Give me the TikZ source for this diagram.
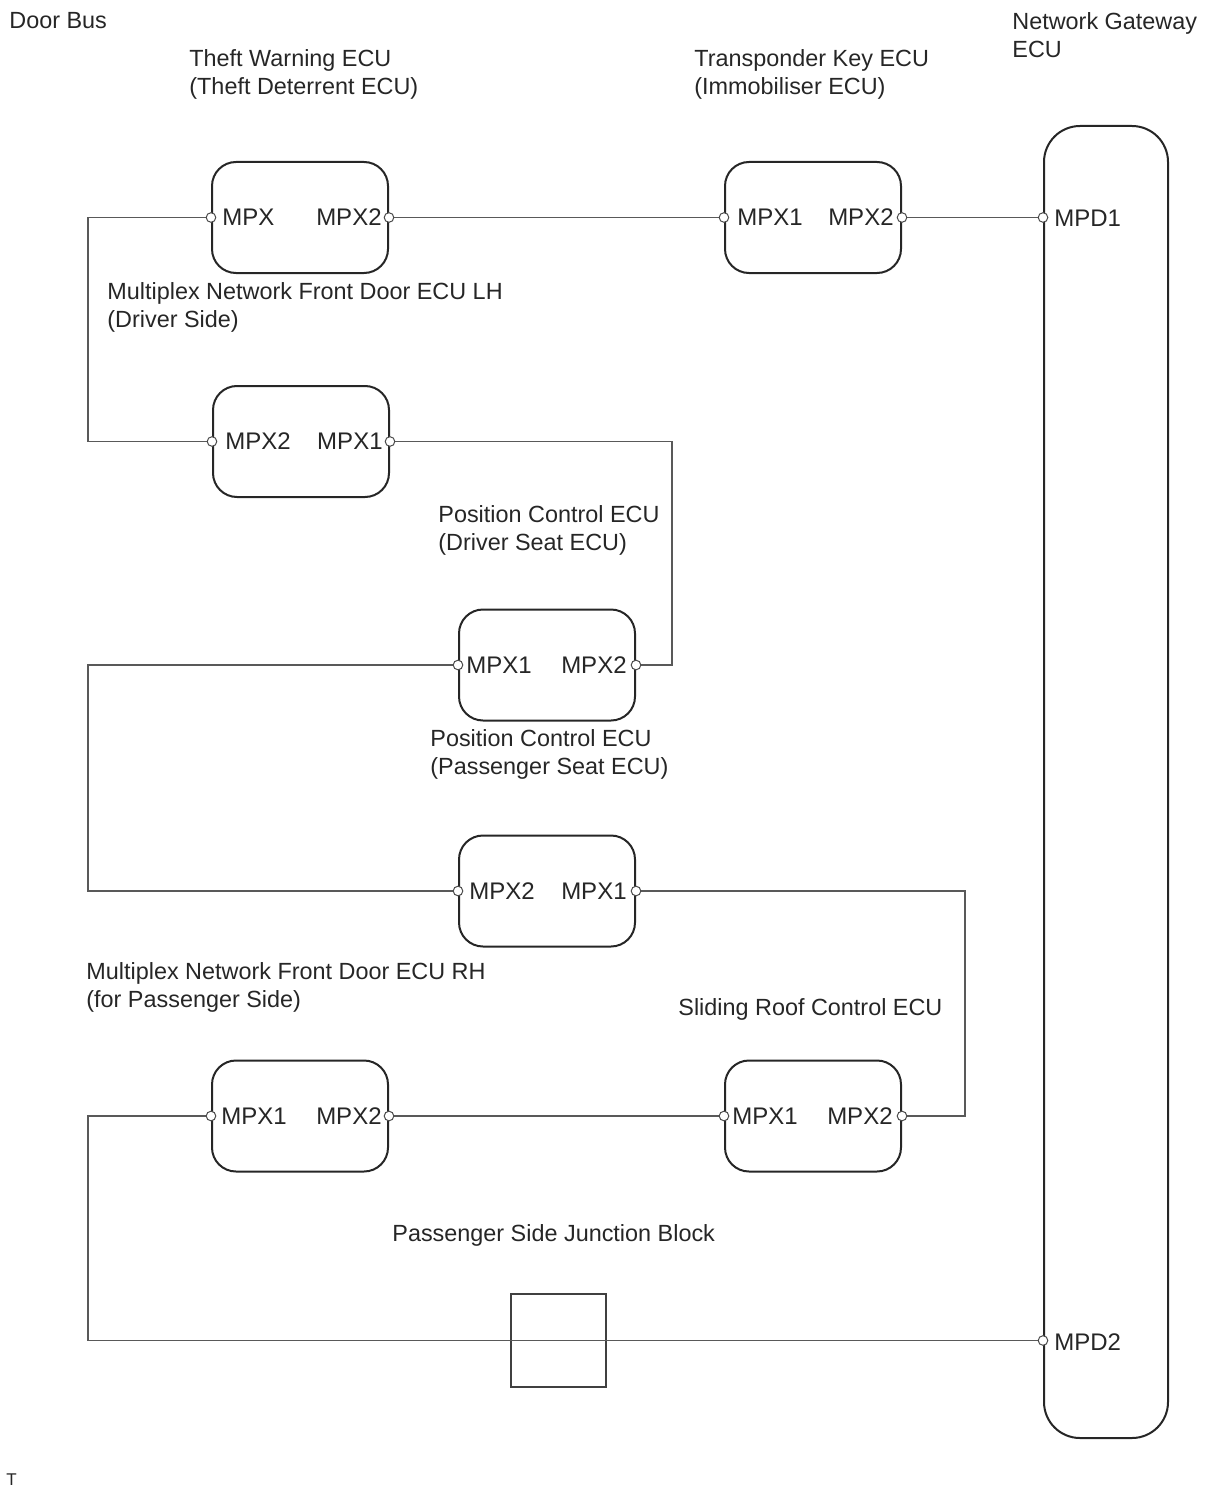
\documentclass[tikz,border=0pt]{standalone}
\usepackage{fontspec}
\setmainfont{Liberation Sans}
\begin{document}
\begin{tikzpicture}[x=0.5pt,y=-0.5pt,
  ecu/.style={draw=black!85, line width=1pt, rounded corners=12pt, minimum width=88pt, minimum height=55.5pt, inner sep=0pt},
  gwbox/.style={draw=black!85, line width=1pt, rounded corners=18pt, minimum width=62pt, minimum height=656pt, inner sep=0pt},
  jbox/.style={draw=black!75, line width=1pt, minimum width=47.5pt, minimum height=46.5pt, inner sep=0pt},
  wire/.style={draw=black!65, line width=0.8pt},
  pin/.style={circle, draw=black!70, fill=white, line width=0.5pt, inner sep=0pt, minimum size=4.8pt},
  lbl/.style={font=\fontsize{11.7}{14}\selectfont, text=black!85, inner sep=0pt, anchor=west, align=left},
  plbl/.style={font=\fontsize{12}{14}\selectfont, text=black!85, inner sep=0pt}]
\useasboundingbox (0,0) rectangle (1210,1498);
% boxes
\node[ecu] (A) at (300,217.5) {};
\node[ecu] (T) at (813,217.5) {};
\node[ecu] (B) at (301,441.5) {};
\node[ecu] (C) at (547,665) {};
\node[ecu] (D) at (547,891) {};
\node[ecu] (E) at (300,1116) {};
\node[ecu] (F) at (813,1116) {};
\node[gwbox] (G) at (1106,782) {};
\node[jbox] (J) at (558.5,1340.5) {};
\coordinate (g1) at (G.west |- T.east);
\coordinate (g2) at (G.west |- J.center);
% wires
\draw[wire] (A.west) -- ++(-123,0) |- (B.west);
\draw[wire] (A.east) -- (T.west);
\draw[wire] (T.east) -- (g1);
\draw[wire] (B.east) -- ++(282,0) |- (C.east);
\draw[wire] (C.west) -- ++(-370,0) |- (D.west);
\draw[wire] (D.east) -- ++(329,0) |- (F.east);
\draw[wire] (F.west) -- (E.east);
\draw[wire] (E.west) -- ++(-123,0) |- (g2);
% pins
\foreach \b in {A,T,B,C,D,E,F}{
  \node[pin] (\b pl) at (\b.west) {};
  \node[pin] (\b pr) at (\b.east) {};
}
\node[pin] (gp1) at (g1) {};
\node[pin] (gp2) at (g2) {};
% pin labels
\node[plbl, anchor=west] at (222,217) {MPX};
\node[plbl, anchor=east] at (382,217) {MPX2};
\node[plbl, anchor=west] at (737,217) {MPX1};
\node[plbl, anchor=east] at (894,217) {MPX2};
\node[plbl, anchor=west] at (1054,218) {MPD1};
\node[plbl, anchor=west] at (225,441) {MPX2};
\node[plbl, anchor=east] at (383,441) {MPX1};
\node[plbl, anchor=west] at (466,665) {MPX1};
\node[plbl, anchor=east] at (627,665) {MPX2};
\node[plbl, anchor=west] at (469,891) {MPX2};
\node[plbl, anchor=east] at (627,891) {MPX1};
\node[plbl, anchor=west] at (221,1116) {MPX1};
\node[plbl, anchor=east] at (382,1116) {MPX2};
\node[plbl, anchor=west] at (732,1116) {MPX1};
\node[plbl, anchor=east] at (893,1116) {MPX2};
\node[plbl, anchor=west] at (1054,1342) {MPD2};
% labels
\node[lbl] at (9,21) {Door Bus};
\node[lbl] at (189,74) {Theft Warning ECU\\(Theft Deterrent ECU)};
\node[lbl] at (694,74) {Transponder Key ECU\\(Immobiliser ECU)};
\node[lbl] at (1012,35) {Network Gateway\\ECU};
\node[lbl] at (107,307) {Multiplex Network Front Door ECU LH\\(Driver Side)};
\node[lbl] at (438,530) {Position Control ECU\\(Driver Seat ECU)};
\node[lbl] at (430,754) {Position Control ECU\\(Passenger Seat ECU)};
\node[lbl] at (86,987) {Multiplex Network Front Door ECU RH\\(for Passenger Side)};
\node[lbl] at (678,1009) {Sliding Roof Control ECU};
\node[lbl] at (392,1235) {Passenger Side Junction Block};
\node[lbl, font=\fontsize{8.5}{9}\selectfont] at (6,1480) {T};
\end{tikzpicture}
\end{document}
